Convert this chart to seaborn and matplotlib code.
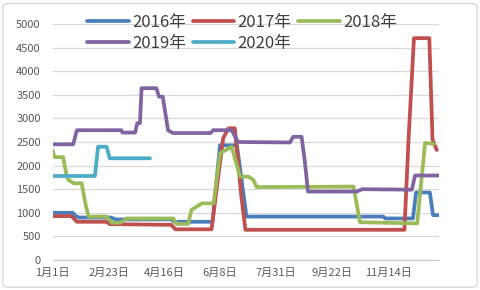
import matplotlib
matplotlib.use("Agg")
import matplotlib.pyplot as plt
import seaborn as sns
import pandas as pd
from matplotlib.patches import FancyBboxPatch

# ---- data (day of year, price) ----
days16 = [0, 19, 22, 25, 55, 60, 112, 115, 151, 158, 174, 183, 312, 314, 340, 343, 356, 359, 365]
vals16 = [1000, 1000, 930, 900, 900, 860, 860, 810, 810, 2430, 2430, 920, 920, 880, 880, 1430, 1430, 950, 950]

days17 = [0, 18, 23, 51, 54, 112, 116, 150, 161, 166, 172, 178, 182, 332, 336, 341, 355.5, 358.5, 362.5]
vals17 = [930, 930, 810, 810, 760, 745, 650, 650, 2580, 2790, 2790, 1380, 640, 640, 2600, 4700, 4700, 2550, 2330]

days18 = [0, 2, 10, 13.5, 15, 20, 27.5, 31, 34, 51, 56, 64, 70, 114, 117, 128, 131, 136, 141,
          152, 158, 169, 177, 185, 189.5, 192.5, 284, 290, 344, 351.5, 360]
vals18 = [2330, 2180, 2180, 1770, 1700, 1625, 1625, 1200, 920, 920, 790, 790, 880, 880, 765, 765, 1060, 1130, 1200,
          1200, 2260, 2400, 1765, 1765, 1695, 1545, 1555, 800, 775, 2480, 2460]

days19 = [0, 19.5, 23, 65, 66, 78, 80, 82.5, 84, 98, 100.5, 104, 109, 113.5, 149, 151.5, 169, 175,
          224, 227, 235, 238, 241, 287, 292, 339, 342, 365]
vals19 = [2450, 2450, 2750, 2750, 2700, 2700, 2900, 2900, 3640, 3640, 3460, 3460, 2750, 2690, 2690, 2750, 2750, 2500,
          2490, 2610, 2610, 2100, 1450, 1450, 1500, 1490, 1790, 1790]

days20 = [0, 40, 43, 51, 54, 92]
vals20 = [1780, 1780, 2400, 2400, 2155, 2155]

series_names = ["2016年", "2017年", "2018年", "2019年", "2020年"]
series_days = [days16, days17, days18, days19, days20]
series_vals = [vals16, vals17, vals18, vals19, vals20]
colors = ["#4A7EBB", "#C0504D", "#9BBB59", "#8064A2", "#4BACC6"]

tick_days = [0, 53, 105, 158, 211, 264, 317]
tick_labels = ["1月1日", "2月23日", "4月16日", "6月8日", "7月31日", "9月22日", "11月14日"]

# ---- style ----
sns.set_theme(style="white")
plt.rcParams["font.family"] = ["Noto Sans CJK SC", "DejaVu Sans"]

fig = plt.figure(figsize=(4.8, 2.9), dpi=100)
ax = fig.add_axes([52.5 / 480, 30 / 290, (439.4 - 52.5) / 480, 236 / 290])

handles = []
for name, d, v, c in zip(series_names, series_days, series_vals, colors):
    df = pd.DataFrame({"day": d, "val": v})
    sns.lineplot(data=df, x="day", y="val", ax=ax, color=c, lw=2.7,
                 sort=False, estimator=None, legend=False)
    line = ax.lines[-1]
    line.set_solid_joinstyle("round")
    line.set_solid_capstyle("round")
    line.set_label(name)
    handles.append(line)

ax.set_xlim(0, 365)
ax.set_ylim(0, 5000)
ax.set_yticks(range(0, 5001, 500))
ax.set_xticks(tick_days)
ax.set_xticklabels(tick_labels)
ax.set_xlabel("")
ax.set_ylabel("")
ax.yaxis.grid(True, color="#d9d9d9", lw=0.9)
ax.xaxis.grid(False)
for s in ["left", "right", "top"]:
    ax.spines[s].set_visible(False)
ax.spines["bottom"].set_color("#d0d0d0")
ax.spines["bottom"].set_linewidth(0.9)
ax.set_axisbelow(True)
ax.tick_params(axis="y", length=0, pad=8.5, labelsize=8, labelcolor="#595959")
ax.tick_params(axis="x", length=0, pad=6, labelsize=8, labelcolor="#595959")

order = [0, 3, 1, 4, 2]
leg = ax.legend(handles=[handles[i] for i in order], labels=[series_names[i] for i in order],
                ncol=3, loc="upper left", bbox_to_anchor=(87 / 480, 1 - 14 / 290),
                bbox_transform=fig.transFigure, frameon=False, fontsize=12,
                handlelength=2.5, handletextpad=0.2, columnspacing=0.4,
                labelspacing=0.25, borderpad=0, borderaxespad=0)
for t in leg.get_texts():
    t.set_color("#404040")

fig.patches.append(FancyBboxPatch((0.006, 0.01), 0.988, 0.978,
                                  boxstyle="round,pad=0,rounding_size=0.012",
                                  transform=fig.transFigure, fill=False,
                                  ec="#d9d9d9", lw=1))

fig.savefig("out.png", dpi=100)
